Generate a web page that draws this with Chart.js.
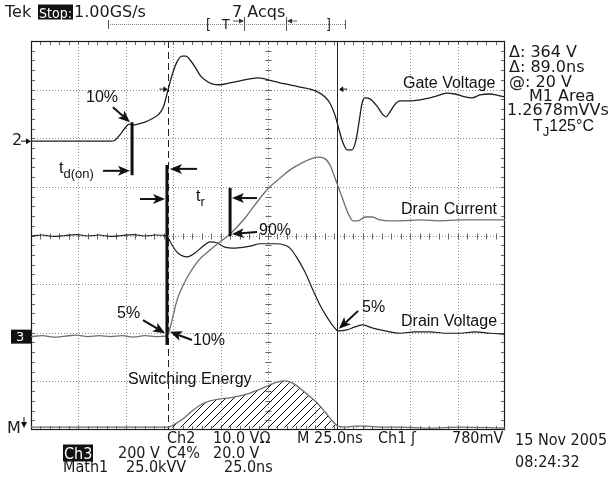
<!DOCTYPE html>
<html><head><meta charset="utf-8">
<script src="https://cdn.jsdelivr.net/npm/chart.js@4.4.0/dist/chart.umd.min.js"></script>
<style>
html,body{margin:0;padding:0;background:#fff;}
#wrap{position:relative;width:610px;height:479px;overflow:hidden;background:#fff;}
canvas{position:absolute;left:0;top:0;}
.t{position:absolute;white-space:nowrap;line-height:1;transform:translateY(-50%);color:#1a1a1a;}
.s{font-family:"DejaVu Sans",sans-serif;font-size:16px;}
.c{font-family:"DejaVu Sans Condensed","DejaVu Sans",sans-serif;font-size:16px;font-stretch:condensed;}
.a{font-family:"Liberation Sans",Arial,sans-serif;font-size:16px;color:#111;}
.inv{background:#111;color:#fff;padding:1px 1px 0 1px;}
.sm{font-size:14px;}
sub{font-size:13px;vertical-align:-5px;}
</style></head><body>
<div id="wrap"><canvas id="c" width="610" height="479"></canvas></div>
<script>
// Time axis in ns (25 ns/div, 10 div), vertical in screen divisions (0..8)
const gateT = [0,20,41.7,44.3,46.9,49.6,51.7,53.8,56.4,60.1,63.8,67.0,69.6,71.2,72.3,74.4,77.0,79.6,81.8,83.9,86.5,89.1,91.8,95.5,99.7,105.0,110.2,115.5,119.7,123.4,127.1,131.3,136.6,141.9,147.2,151.4,155.1,157.7,160.3,162.5,164.6,166.7,169.3,171.4,173.0,174.6,176.2,178.8,182.5,185.7,187.2,189.3,192.0,194.6,199.9,205.2,210.4,215.7,219.4,223.6,228.9,232.6,236.8,242.1,247.4,250];
const gateV = [5.94,5.94,5.94,5.96,6.07,6.21,6.29,6.27,6.29,6.33,6.40,6.48,6.62,6.83,7.00,7.30,7.57,7.69,7.69,7.61,7.47,7.30,7.20,7.12,7.10,7.14,7.18,7.22,7.24,7.22,7.18,7.14,7.10,7.05,7.01,6.95,6.85,6.72,6.48,6.17,5.90,5.76,5.76,5.96,6.33,6.72,6.83,6.81,6.66,6.48,6.44,6.54,6.70,6.77,6.77,6.79,6.83,6.89,6.93,6.91,6.85,6.83,6.89,6.91,6.87,6.85];

const drainVT = [0,6,12,18,24,30,36,42,48,54,60,66,71.2,72.3,74.4,77.5,82.3,86.5,90.7,94.4,98.1,102.3,107.6,115.5,120.8,128.7,134.0,136.6,140.3,144.5,148.7,152.4,156.1,159.3,161.9,166.7,170.9,175.1,179.9,186.7,194.6,202.5,210.4,218.4,226.3,234.2,242.1,250];
const drainV  = [3.99,4.01,3.98,4.00,4.02,3.99,4.01,3.98,4.00,4.02,3.99,4.01,3.99,3.95,3.80,3.64,3.56,3.64,3.78,3.87,3.85,3.76,3.74,3.78,3.83,3.83,3.80,3.74,3.54,3.25,2.88,2.57,2.32,2.14,2.04,2.06,2.12,2.16,2.10,2.04,1.99,2.02,2.02,1.99,1.99,2.02,1.99,1.97];

const drainIT = [0,6,12,18,24,30,36,42,48,54,60,66,71.2,72.3,74.4,77.0,79.6,82.3,85.4,89.1,94.4,99.7,105.0,112.9,118.1,124.5,131.3,136.6,141.9,147.2,151.4,154.5,157.7,159.8,161.9,164.6,167.2,169.8,172.5,176.2,179.9,184.1,189.3,194.6,205.2,215.7,226.3,236.8,250];
const drainI  = [1.92,1.94,1.91,1.93,1.95,1.92,1.94,1.92,1.94,1.91,1.94,1.92,1.93,1.97,2.26,2.67,2.92,3.13,3.33,3.52,3.70,3.87,4.03,4.36,4.63,4.94,5.18,5.35,5.47,5.57,5.61,5.59,5.45,5.24,5.02,4.73,4.46,4.30,4.30,4.38,4.38,4.32,4.30,4.30,4.32,4.30,4.32,4.32,4.32];

const energyT = [0,40,72.3,75.9,80.2,84.9,89.1,94.4,99.7,105.0,110.2,115.5,120.8,126.1,130.3,134.0,137.7,141.9,146.1,150.8,155.1,158.8,161.9,165.6,170.9,176.2,184.1,194.6,210.4,226.3,250];
const energy  = [0.06,0.06,0.06,0.12,0.23,0.39,0.51,0.60,0.64,0.66,0.70,0.76,0.84,0.93,0.99,1.01,0.97,0.86,0.72,0.56,0.37,0.19,0.08,0.06,0.08,0.08,0.06,0.06,0.04,0.06,0.04];
const energyBase = 0.05;

const cursorT = [72.5, 161.5];
const cursorLevel = 7.01;

// annotation bars [t, yTop, yBottom] and arrows [t0,y0,t1,y1]
const bars = [[53.3,6.33,5.24],[71.7,5.45,1.75],[105.0,4.98,3.99]];
const arrows = [[43.2,6.64,52.2,6.33],[38.0,5.33,52.2,5.33],[87.6,5.37,73.3,5.37],[57.5,4.75,70.7,4.75],[119.2,4.77,106.0,4.77],[119.2,4.07,106.0,4.03],[59.1,2.26,70.7,1.99],[84.9,1.85,73.3,2.02],[172.5,2.45,162.4,2.08]];

function pts(xs, ys){ return xs.map((x,i)=>({x:x,y:ys[i]})); }

const pc=document.createElement('canvas'); pc.width=8; pc.height=8;
const pg=pc.getContext('2d'); pg.strokeStyle='#111'; pg.lineWidth=1;
pg.beginPath(); pg.moveTo(0,8); pg.lineTo(8,0); pg.moveTo(-2,2); pg.lineTo(2,-2); pg.moveTo(6,10); pg.lineTo(10,6); pg.stroke();
const hatch=pg.createPattern(pc,'repeat');

function arrowHead(ctx,x0,y0,x1,y1){
  const a=Math.atan2(y1-y0,x1-x0), L=12, W=5, N=3;
  const ca=Math.cos(a), sa=Math.sin(a);
  const bx=x1-L*ca, by=y1-L*sa, nx=x1-(L-N)*ca, ny=y1-(L-N)*sa;
  ctx.lineWidth=2; ctx.beginPath(); ctx.moveTo(x0,y0); ctx.lineTo(nx,ny); ctx.stroke();
  ctx.beginPath(); ctx.moveTo(x1,y1); ctx.lineTo(bx-W*sa,by+W*ca); ctx.lineTo(nx,ny); ctx.lineTo(bx+W*sa,by-W*ca); ctx.closePath(); ctx.fill();
}

const gridPlugin={
  id:'scopeGrid',
  beforeDatasetsDraw(chart){
    const ctx=chart.ctx, a=chart.chartArea, xs=chart.scales.x, ys=chart.scales.y;
    ctx.save();
    ctx.strokeStyle='#8c8c8c'; ctx.lineWidth=1; ctx.setLineDash([1,2]);
    for(let i=1;i<10;i++){ const x=Math.round(xs.getPixelForValue(i*25))+0.5; ctx.beginPath(); ctx.moveTo(x,a.top); ctx.lineTo(x,a.bottom); ctx.stroke(); }
    for(let j=1;j<8;j++){ const y=Math.round(ys.getPixelForValue(j))+0.5; ctx.beginPath(); ctx.moveTo(a.left,y); ctx.lineTo(a.right,y); ctx.stroke(); }
    ctx.setLineDash([]);
    ctx.strokeStyle='#666';
    const cx=Math.round(xs.getPixelForValue(125))+0.5, cy=Math.round(ys.getPixelForValue(4))+0.5;
    for(let k=1;k<50;k++){ const x=Math.round(xs.getPixelForValue(k*5))+0.5; ctx.beginPath(); ctx.moveTo(x,cy-3); ctx.lineTo(x,cy+3); ctx.stroke();
      ctx.beginPath(); ctx.moveTo(x,a.top); ctx.lineTo(x,a.top+4); ctx.moveTo(x,a.bottom); ctx.lineTo(x,a.bottom-4); ctx.stroke(); }
    for(let k=1;k<40;k++){ const y=Math.round(ys.getPixelForValue(k*0.2))+0.5; ctx.beginPath(); ctx.moveTo(cx-3,y); ctx.lineTo(cx+3,y); ctx.stroke();
      ctx.beginPath(); ctx.moveTo(a.left,y); ctx.lineTo(a.left+4,y); ctx.moveTo(a.right,y); ctx.lineTo(a.right-4,y); ctx.stroke(); }
    // cursors
    ctx.strokeStyle='#222'; ctx.lineWidth=1;
    const c1=Math.round(xs.getPixelForValue(cursorT[0]))+0.5, c2=Math.round(xs.getPixelForValue(cursorT[1]))+0.5;
    ctx.setLineDash([7,4]); ctx.beginPath(); ctx.moveTo(c1,a.top); ctx.lineTo(c1,a.bottom); ctx.stroke();
    ctx.setLineDash([]); ctx.beginPath(); ctx.moveTo(c2,a.top); ctx.lineTo(c2,a.bottom); ctx.stroke();
    // border
    ctx.strokeStyle='#1a1a1a'; ctx.lineWidth=1.2;
    ctx.strokeRect(a.left+0.5,a.top+0.5,a.right-a.left-1,a.bottom-a.top-1);
    ctx.restore();
  },
  afterDatasetsDraw(chart){
    const ctx=chart.ctx, xs=chart.scales.x, ys=chart.scales.y;
    ctx.save(); ctx.fillStyle='#111'; ctx.strokeStyle='#111';
    ctx.lineWidth=3;
    bars.forEach(b=>{ const x=xs.getPixelForValue(b[0]); ctx.beginPath(); ctx.moveTo(x,ys.getPixelForValue(b[1])); ctx.lineTo(x,ys.getPixelForValue(b[2])); ctx.stroke(); });
    arrows.forEach(r=>arrowHead(ctx,xs.getPixelForValue(r[0]),ys.getPixelForValue(r[1]),xs.getPixelForValue(r[2]),ys.getPixelForValue(r[3])));
    // cursor level arrows
    const ly=ys.getPixelForValue(cursorLevel);
    const c1=xs.getPixelForValue(cursorT[0]), c2=xs.getPixelForValue(cursorT[1]);
    ctx.lineWidth=1;
    ctx.beginPath(); ctx.moveTo(c1-9,ly); ctx.lineTo(c1-2,ly); ctx.stroke();
    ctx.beginPath(); ctx.moveTo(c1-1,ly); ctx.lineTo(c1-5,ly-3); ctx.lineTo(c1-5,ly+3); ctx.closePath(); ctx.fill();
    ctx.beginPath(); ctx.moveTo(c2+10,ly); ctx.lineTo(c2+3,ly); ctx.stroke();
    ctx.beginPath(); ctx.moveTo(c2+2,ly); ctx.lineTo(c2+6,ly-3); ctx.lineTo(c2+6,ly+3); ctx.closePath(); ctx.fill();
    // left channel markers
    const g2=ys.getPixelForValue(gateV[0]);
    ctx.beginPath(); ctx.moveTo(21,g2); ctx.lineTo(29,g2); ctx.stroke();
    ctx.beginPath(); ctx.moveTo(31,g2); ctx.lineTo(26,g2-3); ctx.lineTo(26,g2+3); ctx.closePath(); ctx.fill();
    const g3=ys.getPixelForValue(drainI[0]);
    ctx.fillRect(11,g3-7,20,14);
    const gm=ys.getPixelForValue(energy[0]);
    ctx.beginPath(); ctx.moveTo(24,gm-10); ctx.lineTo(24,gm-2); ctx.stroke();
    ctx.beginPath(); ctx.moveTo(24,gm+1); ctx.lineTo(21,gm-5); ctx.lineTo(27,gm-5); ctx.closePath(); ctx.fill();
    // top record bar
    ctx.strokeStyle='#888'; ctx.setLineDash([1,1]);
    ctx.beginPath(); ctx.moveTo(108,24.5); ctx.lineTo(346,24.5); ctx.stroke();
    ctx.setLineDash([]); ctx.strokeStyle='#555';
    ctx.beginPath(); ctx.moveTo(108.5,20); ctx.lineTo(108.5,29); ctx.moveTo(345.5,20); ctx.lineTo(345.5,29);
    ctx.moveTo(244.5,17); ctx.lineTo(244.5,31); ctx.moveTo(286.5,17); ctx.lineTo(286.5,31); ctx.stroke();
    ctx.fillStyle='#333';
    ctx.beginPath(); ctx.moveTo(244,21); ctx.lineTo(239,18.5); ctx.lineTo(239,23.5); ctx.closePath(); ctx.fill();
    ctx.beginPath(); ctx.moveTo(233,21); ctx.lineTo(239,21); ctx.stroke();
    ctx.beginPath(); ctx.moveTo(287,21); ctx.lineTo(292,18.5); ctx.lineTo(292,23.5); ctx.closePath(); ctx.fill();
    ctx.beginPath(); ctx.moveTo(292,21); ctx.lineTo(297,21); ctx.stroke();
    ctx.restore();
  }
};

new Chart(document.getElementById('c'),{
  type:'line',
  data:{datasets:[
    {label:'Gate Voltage',data:pts(gateT,gateV),borderColor:'#1e1e1e',borderWidth:1.3,pointRadius:0,cubicInterpolationMode:'monotone',fill:false},
    {label:'Drain Current',data:pts(drainIT,drainI),borderColor:'#6e6e6e',borderWidth:1.3,pointRadius:0,cubicInterpolationMode:'monotone',fill:false},
    {label:'Drain Voltage',data:pts(drainVT,drainV),borderColor:'#1e1e1e',borderWidth:1.2,pointRadius:0,cubicInterpolationMode:'monotone',fill:false},
    {label:'Switching Energy',data:pts(energyT,energy),borderColor:'#6e6e6e',borderWidth:1.3,pointRadius:0,cubicInterpolationMode:'monotone',fill:{value:energyBase},backgroundColor:hatch}
  ]},
  options:{
    responsive:false,animation:false,devicePixelRatio:1,
    layout:{padding:{left:31,right:105,top:41,bottom:49}},
    scales:{x:{type:'linear',min:0,max:250,display:false},y:{type:'linear',min:0,max:8,display:false}},
    plugins:{legend:{display:false},tooltip:{enabled:false}}
  },
  plugins:[gridPlugin]
});

const texts=[
  ['s',5,12,'Tek'],['c inv sm',38,12,'Stop:'],['s',74,12,'1.00GS/s'],['s',232,12,'7 Acqs'],
  ['c sm',206,24,'['],['c sm',222,24,'T'],['c sm',326,24,']'],
  ['s',509,52,'Δ: 364 V'],['s',509,67,'Δ: 89.0ns'],['s',509,82,'@: 20 V'],['s',529,96,'M1 Area'],['s',507,110,'1.2678mVVs'],
  ['c',167,438,'Ch2'],['c',213,438,'10.0 VΩ'],['c',297,438,'M 25.0ns'],['c',378,438,'Ch1 ʃ'],['c',452,438,'780mV'],
  ['c',515,440,'15 Nov 2005'],['c',515,462,'08:24:32'],
  ['c inv',63,453,'Ch3'],['c',118,453,'200 V'],['c',167,453,'C4%'],['c',213,453,'20.0 V'],
  ['c',63,467,'Math1'],['c',126,467,'25.0kVV'],['c',224,467,'25.0ns'],
  ['s',12,140,'2'],['s',7,428,'M'],
  ['a',403,83,'Gate Voltage'],['a',401,209,'Drain Current'],['a',401,321,'Drain Voltage'],['a',128,379,'Switching Energy'],
  ['a',86,97,'10%'],['a',259,230,'90%'],['a',117,313,'5%'],['a',193,340,'10%'],['a',362,307,'5%']
];
const wrap=document.getElementById('wrap');
texts.forEach(t=>{const d=document.createElement('div'); d.className='t '+t[0]; d.style.left=t[1]+'px'; d.style.top=t[2]+'px'; d.textContent=t[3]; wrap.appendChild(d);});
function addHTML(cls,x,y,html){const d=document.createElement('div'); d.className='t '+cls; d.style.left=x+'px'; d.style.top=y+'px'; d.innerHTML=html; wrap.appendChild(d);}
addHTML('a',59,170,'t<sub>d(on)</sub>');
addHTML('a',196,198,'t<sub>r</sub>');
addHTML('a',533,128,'T<sub>J</sub>125°C');
const m3=document.createElement('div'); m3.className='t s'; m3.style.left='16px'; m3.style.top='336px'; m3.style.color='#fff'; m3.style.fontSize='13px'; m3.textContent='3'; wrap.appendChild(m3);
</script>
</body></html>
